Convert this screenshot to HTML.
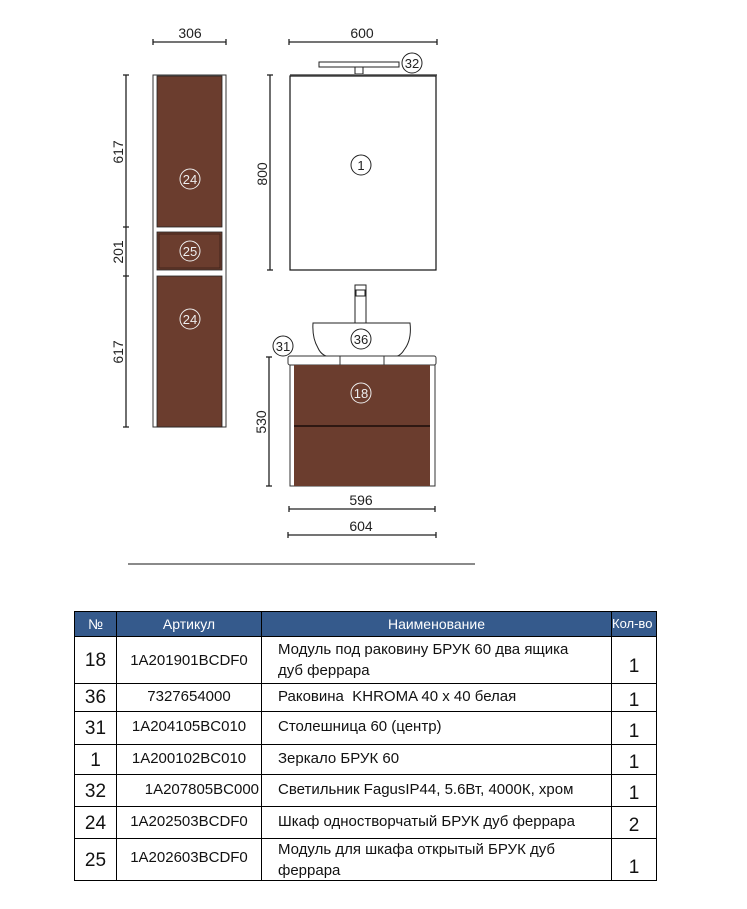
<!DOCTYPE html>
<html><head><meta charset="utf-8"><style>
html,body{margin:0;padding:0;background:#fff;}
body{width:747px;height:909px;position:relative;overflow:hidden;font-family:"Liberation Sans","DejaVu Sans",sans-serif;}
.c{position:absolute;box-sizing:border-box;border-right:1px solid #000;border-bottom:1px solid #000;font-size:15px;color:#111;}
.h{background:#355a8c;color:#fff;font-size:14px;text-align:center;line-height:24px;font-family:"Liberation Sans Narrow","Liberation Sans",sans-serif;}
.n{font-size:19px;text-align:center;}
.a{text-align:center;}
.t{padding-left:16px;line-height:21px;}
.q{font-size:19px;text-align:center;}
</style></head><body>
<svg width="747" height="600" style="position:absolute;left:0;top:0" font-family="Liberation Sans, sans-serif">
<g stroke="#222" stroke-width="1.3" fill="none">
<line x1="153" y1="42" x2="226" y2="42"/><line x1="153" y1="39" x2="153" y2="45"/><line x1="226" y1="39" x2="226" y2="45"/>
<line x1="289" y1="42" x2="437" y2="42"/><line x1="289" y1="39" x2="289" y2="45"/><line x1="437" y1="39" x2="437" y2="45"/>
<line x1="126" y1="75" x2="126" y2="427"/><line x1="123" y1="75" x2="129" y2="75"/><line x1="123" y1="227" x2="129" y2="227"/><line x1="123" y1="276" x2="129" y2="276"/><line x1="123" y1="427" x2="129" y2="427"/>
<line x1="270" y1="75" x2="270" y2="270"/><line x1="267" y1="75" x2="273" y2="75"/><line x1="267" y1="270" x2="273" y2="270"/>
<line x1="269" y1="357" x2="269" y2="486"/><line x1="266" y1="357" x2="272" y2="357"/><line x1="266" y1="486" x2="272" y2="486"/>
<line x1="289" y1="509" x2="435" y2="509"/><line x1="289" y1="506" x2="289" y2="512"/><line x1="435" y1="506" x2="435" y2="512"/>
<line x1="288" y1="535" x2="436" y2="535"/><line x1="288" y1="532" x2="288" y2="538"/><line x1="436" y1="532" x2="436" y2="538"/>
</g>
<g font-size="14" fill="#222" text-anchor="middle">
<text x="190" y="38">306</text><text x="362" y="38">600</text>
<text x="361" y="505">596</text><text x="361" y="531">604</text>
<text transform="translate(123,152) rotate(-90)">617</text>
<text transform="translate(123,252) rotate(-90)">201</text>
<text transform="translate(123,352) rotate(-90)">617</text>
<text transform="translate(267,174) rotate(-90)">800</text>
<text transform="translate(266,422) rotate(-90)">530</text>
</g>
<rect x="153" y="75" width="73" height="352" fill="#fff" stroke="#333" stroke-width="1"/>
<rect x="157" y="76" width="65" height="151" fill="#6b3d2e" stroke="#222" stroke-width="0.8"/>
<rect x="157" y="232" width="65" height="38" fill="#6b3d2e" stroke="#222" stroke-width="0.8"/>
<rect x="159" y="234" width="61" height="34" fill="none" stroke="#3a2018" stroke-width="0.8"/>
<rect x="157" y="276" width="65" height="151" fill="#6b3d2e" stroke="#222" stroke-width="0.8"/>
<rect x="319" y="62" width="80" height="5" fill="#fff" stroke="#222"/>
<rect x="355" y="67" width="8" height="7" fill="#fff" stroke="#222"/>
<line x1="290" y1="75" x2="437" y2="75" stroke="#777" stroke-width="2"/>
<rect x="290" y="76" width="146" height="194" fill="#fff" stroke="#111" stroke-width="1.2"/>
<rect x="355" y="285" width="11" height="38" fill="#fff" stroke="#222"/>
<rect x="356" y="290" width="9" height="6" fill="#fff" stroke="#222"/>
<path d="M313 323 L410 323 Q412 340 404 350 Q400 357 392 357 L332 357 Q322 357 318 348 Q312 338 313 323 Z" fill="#fff" stroke="#222"/>
<rect x="288" y="356" width="148" height="9" rx="2" fill="#fff" stroke="#333"/>
<line x1="340" y1="356" x2="340" y2="365" stroke="#333"/><line x1="384" y1="356" x2="384" y2="365" stroke="#333"/>
<rect x="290" y="365" width="145" height="121" fill="#fff" stroke="#333"/>
<rect x="294" y="365" width="136" height="121" fill="#6b3d2e"/>
<line x1="294" y1="426" x2="430" y2="426" stroke="#1a0d08" stroke-width="1.5"/>
<g fill="none" stroke-width="1">
<circle cx="190" cy="179" r="10" stroke="#eee"/><circle cx="190" cy="251" r="10" stroke="#eee"/><circle cx="190" cy="319" r="10" stroke="#eee"/>
<circle cx="361" cy="393" r="10" stroke="#eee"/>
<circle cx="361" cy="165" r="10" stroke="#222"/><circle cx="361" cy="339" r="10" stroke="#222"/>
<circle cx="412" cy="63" r="10" stroke="#222"/><circle cx="283" cy="346" r="10" stroke="#222"/>
</g>
<g font-size="13" text-anchor="middle">
<text x="190" y="184" fill="#eee">24</text><text x="190" y="256" fill="#eee">25</text><text x="190" y="324" fill="#eee">24</text>
<text x="361" y="398" fill="#eee">18</text>
<text x="361" y="170" fill="#222">1</text><text x="361" y="344" fill="#222">36</text>
<text x="412" y="68" fill="#222">32</text><text x="283" y="351" fill="#222">31</text>
</g>
<line x1="128" y1="564" x2="475" y2="564" stroke="#444" stroke-width="1.3"/>
</svg>
<div style="position:absolute;left:74px;top:611px;width:583px;height:270px;border-left:1px solid #000;border-top:1px solid #000;box-sizing:border-box"></div>
<div class="c h" style="left:75px;top:612px;width:42px;height:25px">№</div>
<div class="c h" style="left:117px;top:612px;width:145px;height:25px">Артикул</div>
<div class="c h" style="left:262px;top:612px;width:350px;height:25px">Наименование</div>
<div class="c h" style="left:612px;top:612px;width:45px;height:25px;font-size:13px;text-align:left">Кол-во</div>

<div class="c n" style="left:75px;top:637px;width:42px;height:47px;line-height:47px">18</div>
<div class="c a" style="left:117px;top:637px;width:145px;height:47px;line-height:47px">1A201901BCDF0</div>
<div class="c t" style="left:262px;top:637px;width:350px;height:47px;padding-top:2px">Модуль под раковину БРУК 60 два ящика<br>дуб феррара</div>
<div class="c q" style="left:612px;top:637px;width:45px;height:47px;line-height:60px">1</div>

<div class="c n" style="left:75px;top:684px;width:42px;height:28px;line-height:28px">36</div>
<div class="c a" style="left:117px;top:684px;width:145px;height:28px;line-height:26px">7327654000</div>
<div class="c t" style="left:262px;top:684px;width:350px;height:28px;line-height:26px">Раковина&nbsp; KHROMA 40 x 40 белая</div>
<div class="c q" style="left:612px;top:684px;width:45px;height:28px;line-height:34px">1</div>

<div class="c n" style="left:75px;top:712px;width:42px;height:33px;line-height:33px">31</div>
<div class="c a" style="left:117px;top:712px;width:145px;height:33px;line-height:30px">1A204105BC010</div>
<div class="c t" style="left:262px;top:712px;width:350px;height:33px;line-height:30px">Столешница 60 (центр)</div>
<div class="c q" style="left:612px;top:712px;width:45px;height:33px;line-height:40px">1</div>

<div class="c n" style="left:75px;top:745px;width:42px;height:30px;line-height:32px">1</div>
<div class="c a" style="left:117px;top:745px;width:145px;height:30px;line-height:28px">1A200102BC010</div>
<div class="c t" style="left:262px;top:745px;width:350px;height:30px;line-height:28px">Зеркало БРУК 60</div>
<div class="c q" style="left:612px;top:745px;width:45px;height:30px;line-height:36px">1</div>

<div class="c n" style="left:75px;top:775px;width:42px;height:32px;line-height:34px">32</div>
<div class="c a" style="left:117px;top:775px;width:145px;height:32px;line-height:30px;text-align:right;padding-right:2px">1A207805BC000</div>
<div class="c t" style="left:262px;top:775px;width:350px;height:32px;line-height:30px">Светильник FagusIP44, 5.6Вт, 4000К, хром</div>
<div class="c q" style="left:612px;top:775px;width:45px;height:32px;line-height:38px">1</div>

<div class="c n" style="left:75px;top:807px;width:42px;height:32px;line-height:34px">24</div>
<div class="c a" style="left:117px;top:807px;width:145px;height:32px;line-height:30px">1A202503BCDF0</div>
<div class="c t" style="left:262px;top:807px;width:350px;height:32px;line-height:30px">Шкаф одностворчатый БРУК дуб феррара</div>
<div class="c q" style="left:612px;top:807px;width:45px;height:32px;line-height:38px">2</div>

<div class="c n" style="left:75px;top:839px;width:42px;height:42px;line-height:44px">25</div>
<div class="c a" style="left:117px;top:839px;width:145px;height:42px;line-height:38px">1A202603BCDF0</div>
<div class="c t" style="left:262px;top:839px;width:350px;height:42px;padding-top:0">Модуль для шкафа открытый БРУК дуб<br>феррара</div>
<div class="c q" style="left:612px;top:839px;width:45px;height:42px;line-height:58px">1</div>
</body></html>
